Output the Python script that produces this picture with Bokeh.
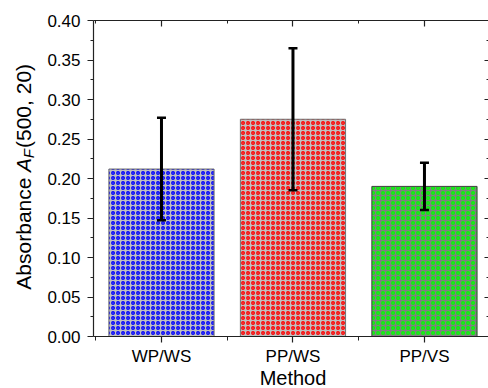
import numpy as np
from bokeh.plotting import figure
from bokeh.layouts import row, column
from bokeh.models import (ColumnDataSource, LinearAxis, FixedTicker, Range1d, Whisker,
                          TeeHead, NumeralTickFormatter)
from bokeh.core.properties import value
from bokeh.embed import file_html
from bokeh.resources import INLINE

methods = ["WP/WS", "PP/WS", "PP/VS"]
means = [0.212, 0.275, 0.190]
errors = [0.065, 0.090, 0.030]
fill_colors = ["#c0c0c0", "#c0c0c0", "#808080"]
dot_colors = ["#0000ff", "#ff0000", "#00ff00"]
edge_colors = ["#707070", "#707070", "#404040"]
y_ticks = [0.0, 0.05, 0.10, 0.15, 0.20, 0.25, 0.30, 0.35, 0.40]
ylabel_parts = ["Absorbance ", "A", "F", "(500, 20)"]
xlabel = "Method"

xs = list(range(1, len(methods) + 1))
src = ColumnDataSource(dict(
    x=xs, top=means,
    upper=[m + e for m, e in zip(means, errors)],
    lower=[m - e for m, e in zip(means, errors)],
    fill=fill_colors, dots=dot_colors, edge=edge_colors,
))

FONT = "Liberation Sans"
FS = "17px"
X0, X1 = 0.483, 3.487
W, H = 488, 388
MAIN_H = 368
TOP, BOTTOM = 20, 31
LW = 40

p = figure(width=W - LW, height=MAIN_H, output_backend="svg", toolbar_location=None,
           x_range=Range1d(X0, X1), y_range=Range1d(0, 0.40),
           min_border_left=93 - LW, min_border_right=0, min_border_top=TOP,
           min_border_bottom=BOTTOM, x_axis_location=None, y_axis_location=None)
p.outline_line_color = None
p.xgrid.visible = False
p.ygrid.visible = False
p.background_fill_color = "white"

p.vbar(x="x", top="top", bottom=0, width=0.8, source=src,
       fill_color="fill", line_color="edge", line_width=1,
       hatch_pattern="ring", hatch_color="dots", hatch_scale=5, hatch_weight=1.35)

w = Whisker(base="x", upper="upper", lower="lower", source=src,
            line_color="black", line_width=3, level="overlay",
            upper_head=TeeHead(size=9, line_width=2.5, line_color="black"),
            lower_head=TeeHead(size=9, line_width=2.5, line_color="black"))
p.add_layout(w)

def style_common(ax):
    ax.axis_line_color = "#222222"
    ax.axis_line_width = 1.2
    ax.major_tick_line_color = "#222222"
    ax.minor_tick_line_color = "#222222"
    ax.major_tick_line_width = 1.2
    ax.minor_tick_line_width = 1

minor_y = [0.025 + 0.05 * i for i in range(8)]

yl = LinearAxis(ticker=FixedTicker(ticks=y_ticks, minor_ticks=minor_y),
                formatter=NumeralTickFormatter(format="0.00"))
style_common(yl)
yl.major_tick_out = 6
yl.major_tick_in = 0
yl.minor_tick_out = 3
yl.minor_tick_in = 0
yl.major_label_text_font = FONT
yl.major_label_text_font_size = FS
yl.major_label_text_color = "black"
yl.major_label_standoff = 7
p.add_layout(yl, "left")

yr = LinearAxis(ticker=FixedTicker(ticks=y_ticks, minor_ticks=minor_y),
                major_label_overrides={t: "" for t in y_ticks})
style_common(yr)
yr.axis_line_color = None
yr.major_tick_in = 4
yr.major_tick_out = 0
yr.minor_tick_in = 2
yr.minor_tick_out = 0
yr.major_label_standoff = 0
p.add_layout(yr, "right")

labels = {x: m for x, m in zip(xs, methods)}
minor_x = [0.5, 1.5, 2.5, 3.5]
xb = LinearAxis(ticker=FixedTicker(ticks=xs, minor_ticks=minor_x),
                major_label_overrides=labels)
style_common(xb)
xb.major_tick_out = 6
xb.major_tick_in = 0
xb.minor_tick_out = 4
xb.minor_tick_in = 0
xb.major_label_text_font = FONT
xb.major_label_text_font_size = FS
xb.major_label_text_color = "black"
xb.major_label_standoff = 4
p.add_layout(xb, "below")

xt = LinearAxis(ticker=FixedTicker(ticks=xs, minor_ticks=minor_x),
                major_label_overrides={x: "" for x in xs})
style_common(xt)
xt.major_tick_in = 6
xt.major_tick_out = 0
xt.minor_tick_in = 3
xt.minor_tick_out = 0
xt.major_label_standoff = 0
p.add_layout(xt, "above")

def strip(width, height, xr, yr_, **borders):
    f = figure(width=width, height=height, output_backend="svg", toolbar_location=None,
               x_range=Range1d(*xr), y_range=Range1d(*yr_),
               x_axis_location=None, y_axis_location=None, **borders)
    try:
        f.title = None
    except Exception:
        pass
    f.outline_line_color = None
    f.xgrid.visible = False
    f.ygrid.visible = False
    return f

# left strip holding the rotated y-axis title (pixel coordinates)
FH = MAIN_H - TOP - BOTTOM
lf = strip(LW, MAIN_H, (0, LW), (0, FH), min_border_left=0, min_border_right=0,
           min_border_top=TOP, min_border_bottom=BOTTOM)
sizes = [21, 21, 15, 21]
styles = ["normal", "italic", "italic", "normal"]
lengths = [117.9, 14.0, 10.2, 84]
dxs = [0, 0, 5, 0]
start = 337 - 290
ys = list(np.cumsum([start] + lengths[:-1]))
for txt, sz, st, yy, dx in zip(ylabel_parts, sizes, styles, ys, dxs):
    lf.text(x=[23 + dx], y=[yy], text=[txt], angle=np.pi / 2,
            text_align="left", text_baseline="middle",
            text_font=value(FONT), text_font_size=f"{sz}px",
            text_font_style=st, text_color="black")

# bottom strip holding the x-axis title
BH = H - MAIN_H
bf = strip(W, BH, (0, W), (0, BH), min_border_left=0, min_border_right=0,
           min_border_top=0, min_border_bottom=0)
bf.text(x=[292.5], y=[BH / 2 + 1], text=[xlabel], text_align="center",
        text_baseline="middle", text_font=value(FONT), text_font_size="20px",
        text_color="black")

layout = column(row(lf, p, spacing=0), bf, spacing=0)
open("out.html", "w").write(file_html(layout, INLINE))
